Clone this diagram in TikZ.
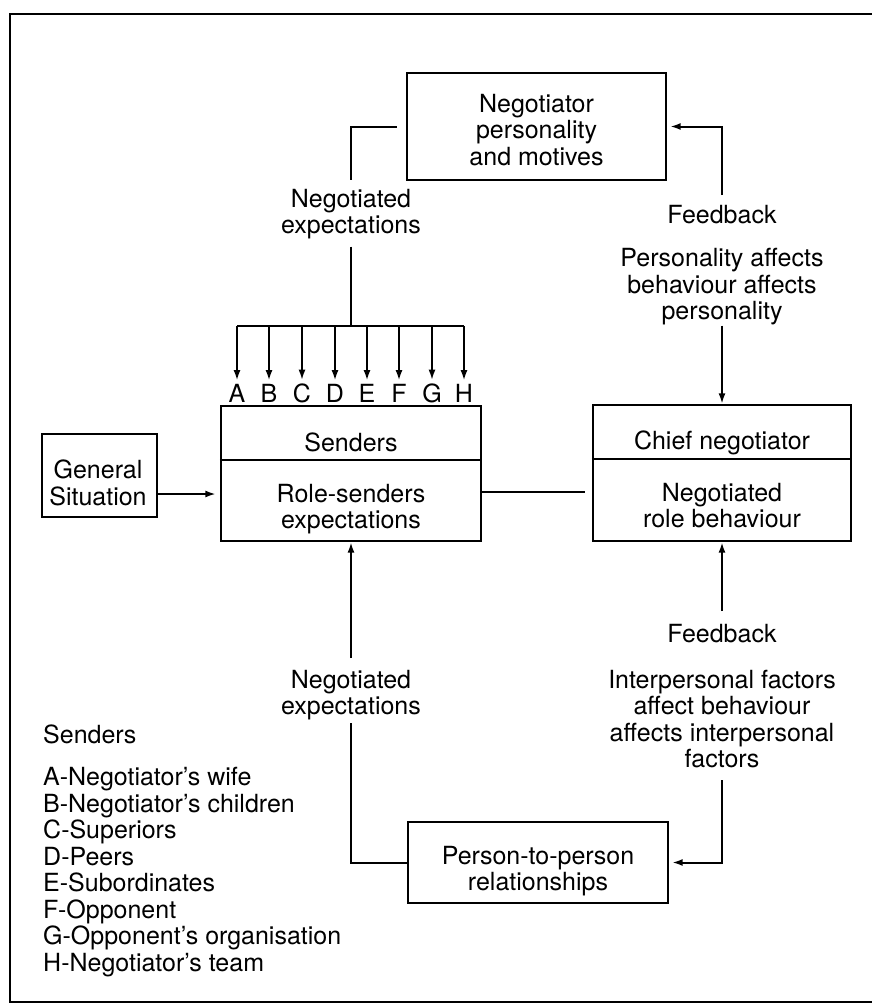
\documentclass[tikz,border=0pt]{standalone}
\usepackage{fontspec}
\setmainfont{TeX Gyre Heros}
\usetikzlibrary{arrows.meta}
\begin{document}
\begin{tikzpicture}[x=1pt,y=-1pt,
  every node/.style={font=\fontsize{25}{26.5}\selectfont, inner sep=0pt},
  box/.style={draw, line width=2.3pt, rectangle},
  conn/.style={line width=2pt},
  arr/.style={-{Latex[length=10.5pt,width=7pt]}},
  txt/.style={align=center, anchor=north},
]
% page and outer frame
\fill[white] (0,0) rectangle (872,1005);
\useasboundingbox (0,0) rectangle (872,1005);
\draw[line width=2.6pt] (874,14) -- (10,14) -- (10,1002) -- (874,1002);

% boxes
\node[box, minimum width=259pt, minimum height=107pt] (motives) at (536.5,126.5) {};
\node[box, minimum width=260pt, minimum height=135pt] (senders) at (351,473.5) {};
\node[box, minimum width=258pt, minimum height=136pt] (chief) at (722,473) {};
\node[box, minimum width=115pt, minimum height=83pt] (gen) at (99.5,475.5) {};
\node[box, minimum width=260pt, minimum height=81pt] (person) at (538,862.5) {};
\draw[line width=2.3pt] (senders.west |- 0,460) -- (senders.east |- 0,460);
\draw[line width=2.3pt] (chief.west |- 0,459) -- (chief.east |- 0,459);

% box texts
\node[txt] (tmotives) at (536.5,94) {Negotiator\\personality\\and motives};
\node[anchor=base] (tsenders) at (351,451) {Senders};
\node[txt] (trole) at (351,484) {Role-senders\\expectations};
\node[anchor=base] (tchief) at (722,449) {Chief negotiator};
\node[txt] (tbeh) at (722,483) {Negotiated\\role behaviour};
\node[txt] (tgen) at (98,460) {General\\Situation};
\node[txt] (tperson) at (538,846) {Person-to-person\\relationships};

% connector labels
\node[txt] (lblTL) at (351,189) {Negotiated\\expectations};
\node[txt] (lblTR) at (722,205) {Feedback\\[17pt]Personality affects\\behaviour affects\\personality};
\node[txt] (lblBL) at (351,670) {Negotiated\\expectations};
\node[txt] (lblBR) at (722,624) {Feedback\\[19.5pt]Interpersonal factors\\affect behaviour\\affects interpersonal\\factors};

% sender letters and distribution bus
\foreach \n/\x [count=\i] in {A/237,B/269,C/302,D/335,E/367,F/399,G/432,H/464} {
  \coordinate (b\i) at (\x,326);
  \node[anchor=base] (l\n) at (\x,402) {\n};
  \draw[conn, arr, shorten >=3pt] (b\i) -- (l\n.north);
}
\draw[conn] (b1) -- (b8);

% connectors
\draw[conn, shorten <=9pt, shorten >=9pt] (motives.west) -- (motives.west -| lblTL) -- (lblTL.north);
\draw[conn, shorten <=7pt] (lblTL.south) -- (lblTL.south |- b1);
\draw[conn, arr, shorten <=10pt, shorten >=3pt] (lblTR.north) -- (lblTR.north |- motives.east) -- (motives.east);
\draw[conn, arr] (lblTR.south) -- (chief.north);
\coordinate (gsy) at (0,494);
\coordinate (scy) at (0,492);
\draw[conn, arr, shorten >=4pt] (gen.east |- gsy) -- (senders.west |- gsy);
\draw[conn, shorten >=7pt] (senders.east |- scy) -- (chief.west |- scy);
\draw[conn, shorten >=2.4pt] (person.west) -- (person.west -| lblBL) -- (lblBL.south);
\draw[conn, arr, shorten <=12pt] (lblBL.north) -- (senders.south);
\draw[conn, arr, shorten <=13pt] (lblBR.north) -- (chief.south);
\draw[conn, arr, shorten <=11.5pt, shorten >=3pt] (lblBR.south) -- (lblBR.south |- person.east) -- (person.east);

% legend
\node[anchor=north west, align=left] (legend) at (43,725) {Senders\\[15.5pt]A-Negotiator’s wife\\B-Negotiator’s children\\C-Superiors\\D-Peers\\E-Subordinates\\F-Opponent\\G-Opponent’s organisation\\H-Negotiator’s team};
\end{tikzpicture}
\end{document}
